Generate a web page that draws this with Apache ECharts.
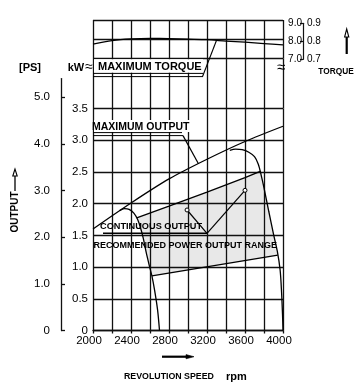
<!DOCTYPE html>
<html><head><meta charset="utf-8">
<script src="https://cdn.jsdelivr.net/npm/echarts@6/dist/echarts.min.js"></script>
<style>html,body{margin:0;padding:0;background:#fff}#c{width:363px;height:390px}</style>
</head><body><div id="c"></div>
<script>
// ---------- data ----------
const rpmLabels = [2000, 2400, 2800, 3200, 3600, 4000];
const kwTicks = [0, 0.5, 1.0, 1.5, 2.0, 2.5, 3.0, 3.5];
const psTicks = [0, 1, 2, 3, 4, 5];
const torqueKgfTicks = [0.7, 0.8, 0.9];
const torqueNmTicks = [7.0, 8.0, 9.0];

const torqueRpm = [2000, 2200, 2400, 2600, 2800, 3000, 3200, 3400, 3600, 3800, 4000];
const torqueMax = [0.774, 0.792, 0.801, 0.804, 0.803, 0.800, 0.797, 0.790, 0.784, 0.777, 0.770];

const maxOutRpm = [2000, 2400, 2800, 3200, 3600, 4000];
const maxOutKw = [1.60, 2.01, 2.39, 2.70, 2.98, 3.22];

const contOutRpm = [2460, 2800, 3200, 3600, 3760];
const contOutKw = [1.775, 1.96, 2.18, 2.41, 2.51];

const leftLimitRpm = [2280, 2330, 2380, 2430, 2470, 2500, 2530, 2560, 2590, 2620, 2650, 2680, 2700];
const leftLimitKw = [1.89, 1.92, 1.91, 1.85, 1.75, 1.62, 1.45, 1.23, 1.04, 0.86, 0.62, 0.32, 0];

const rightLimitRpm = [3440, 3500, 3570, 3640, 3700, 3740, 3770, 3800, 3850, 3900, 3940, 3970, 3985, 3995, 4000];
const rightLimitKw = [2.84, 2.86, 2.85, 2.81, 2.74, 2.62, 2.45, 2.25, 1.88, 1.52, 1.25, 0.95, 0.60, 0.25, 0];

const lowerRpm = [2620, 3945];
const lowerKw = [0.86, 1.19];

const rangeRpm = [2460, 2800, 3200, 3600, 3760, 3800, 3850, 3900, 3940, 3945, 2620, 2590, 2560, 2530, 2500, 2470];
const rangeKw = [1.775, 1.96, 2.18, 2.41, 2.51, 2.25, 1.88, 1.52, 1.25, 1.19, 0.86, 1.04, 1.23, 1.45, 1.62, 1.75];

const pointerRpm = [2990, 3600];
const pointerKw = [1.90, 2.21];
const torqueLeaderRpm = 3300;
const maxOutLeaderRpm = 3110;
const PS_PER_KW = 1 / 0.7355;

// ---------- layout ----------
const L = 93, R = 80;
const mainTop = 108.5, mainBottom = 59.5;
const H = 390;
const mainH = H - mainTop - mainBottom;
const pxPerKw = mainH / 3.5;
const psMax = 5.4;
const psTop = H - mainBottom - psMax / PS_PER_KW * pxPerKw;
const LC = '#111';
const FONT = '"Liberation Sans", Arial, sans-serif';

function interp(xs, ys, x) {
  for (let i = 0; i < xs.length - 1; i++) {
    if (x >= xs[i] && x <= xs[i + 1]) {
      const t = (x - xs[i]) / (xs[i + 1] - xs[i]);
      return ys[i] + t * (ys[i + 1] - ys[i]);
    }
  }
  return ys[ys.length - 1];
}
const pairs = (xs, ys) => xs.map((x, i) => [x, ys[i]]);

function xAxisCfg(gi, mode) {
  const labels = mode === 'main';
  return {
    type: 'value', gridIndex: gi, min: 2000, max: 4000, interval: 200,
    show: mode !== 'hidden',
    axisLine: { show: labels, lineStyle: { color: LC, width: 1.3 } },
    axisTick: { show: labels, length: 3, lineStyle: { color: LC, width: 1.3 } },
    axisLabel: {
      show: labels, margin: 4, fontSize: 11.5, fontFamily: FONT, color: '#000',
      padding: [0, 8, 0, 0],
      formatter: v => rpmLabels.indexOf(v) >= 0 ? String(v) : ''
    },
    splitLine: { show: mode !== 'hidden', lineStyle: { color: LC, width: 1.3 } }
  };
}
const lineSeries = (xs, ys, xi, yi, smooth) => ({
  type: 'line', xAxisIndex: xi, yAxisIndex: yi, data: pairs(xs, ys),
  showSymbol: false, symbol: 'none', smooth: smooth,
  lineStyle: { color: '#000', width: 1.3 }, silent: true, z: 3, clip: false
});

const option = {
  animation: false,
  backgroundColor: '#fff',
  grid: [
    { left: L, right: R, top: mainTop, bottom: mainBottom },
    { left: L, right: R, top: 58.3, height: mainTop - 58.3 },
    { left: L, right: R, top: 20, height: 38.3 },
    { left: L, right: R, top: psTop, bottom: mainBottom },
    { left: L, right: R, top: 23.3, height: 36 }
  ],
  xAxis: [xAxisCfg(0, 'main'), xAxisCfg(1, 'grid'), xAxisCfg(2, 'grid'), xAxisCfg(3, 'hidden'), xAxisCfg(4, 'hidden')],
  yAxis: [
    { type: 'value', gridIndex: 0, min: 0, max: 3.5, interval: 0.5,
      axisLine: { show: false }, axisTick: { show: false },
      axisLabel: { margin: 5, fontSize: 11.5, fontFamily: FONT, color: '#000',
        customValues: kwTicks, formatter: v => v === 0 ? '0' : v.toFixed(1) },
      splitLine: { show: true, lineStyle: { color: LC, width: 1.3 } } },
    { type: 'value', gridIndex: 1, min: 0, max: 1, show: false },
    { type: 'value', gridIndex: 2, min: 0.7, max: 0.9, interval: 0.1,
      axisLine: { show: false }, axisTick: { show: false }, axisLabel: { show: false },
      splitLine: { show: true, lineStyle: { color: LC, width: 1.3 } } },
    { type: 'value', gridIndex: 3, min: 0, max: psMax, interval: 1, position: 'left', offset: 32,
      axisLine: { show: true, lineStyle: { color: LC, width: 1.3 } },
      axisTick: { show: true, inside: true, length: 4, customValues: psTicks, lineStyle: { color: LC, width: 1.3 } },
      axisLabel: { margin: 11, fontSize: 11.5, fontFamily: FONT, color: '#000', padding: [0, 0, 14, 0],
        customValues: psTicks, formatter: v => v === 0 ? '0' : v.toFixed(1) },
      splitLine: { show: false } },
    { type: 'value', gridIndex: 4, min: 0.7, max: 0.9, interval: 0.1, position: 'right', offset: 20,
      axisLine: { show: true, lineStyle: { color: LC, width: 1.2 } },
      axisTick: { show: true, inside: true, length: 3, customValues: torqueKgfTicks, lineStyle: { color: LC, width: 1.2 } },
      axisLabel: { margin: 4, fontSize: 10, fontFamily: FONT, color: '#000', padding: [0, 0, 5, 0],
        customValues: torqueKgfTicks, formatter: v => v.toFixed(1) },
      splitLine: { show: false } },
    { type: 'value', gridIndex: 4, min: 7, max: 9, interval: 1, position: 'right', offset: 20,
      axisLine: { show: false }, axisTick: { show: false },
      axisLabel: { inside: true, margin: 1, fontSize: 10, fontFamily: FONT, color: '#000', padding: [0, 0, 12, 0],
        customValues: torqueNmTicks, formatter: v => v.toFixed(1) },
      splitLine: { show: false } }
  ],
  series: [
    { type: 'custom', xAxisIndex: 0, yAxisIndex: 0, z: -1, silent: true,
      data: pairs(rangeRpm, rangeKw),
      renderItem: (params, api) => {
        if (params.dataIndex !== 0) return null;
        const pts = rangeRpm.map((r, i) => api.coord([r, rangeKw[i]]));
        return { type: 'polygon', shape: { points: pts }, style: { fill: '#e8e8e8', stroke: null } };
      } },
    lineSeries(torqueRpm, torqueMax, 2, 2, 0.3),
    lineSeries(maxOutRpm, maxOutKw, 0, 0, 0.3),
    lineSeries(contOutRpm, contOutKw, 0, 0, false),
    lineSeries(leftLimitRpm, leftLimitKw, 0, 0, 0.3),
    lineSeries(rightLimitRpm, rightLimitKw, 0, 0, 0.3),
    lineSeries(lowerRpm, lowerKw, 0, 0, false)
  ]
};

const chart = echarts.init(document.getElementById('c'), null, { renderer: 'canvas' });
chart.setOption(option);

const px = (gi, x, y) => chart.convertToPixel({ gridIndex: gi }, [x, y]);
const T = (x, y, text, size, extra) => ({
  type: 'text', x: x, y: y, z: 20, silent: true,
  style: Object.assign({ text: text, font: 'bold ' + size + 'px ' + FONT, fill: '#000',
    align: 'left', verticalAlign: 'middle', textAlign: 'left', textVerticalAlign: 'middle' }, extra || {})
});
const Ln = (x1, y1, x2, y2, w) => ({ type: 'line', z: 15, silent: true,
  shape: { x1: x1, y1: y1, x2: x2, y2: y2 }, style: { stroke: '#000', lineWidth: w || 1.2 } });
const Rect = (x, y, w, h) => ({ type: 'rect', z: 12, silent: true, shape: { x: x, y: y, width: w, height: h }, style: { fill: '#fff' } });

const tqEnd = px(2, torqueLeaderRpm, interp(torqueRpm, torqueMax, torqueLeaderRpm));
const moEnd = px(0, maxOutLeaderRpm, interp(maxOutRpm, maxOutKw, maxOutLeaderRpm));
const pA = px(0, pointerRpm[0], pointerKw[0]);
const pB = px(0, pointerRpm[1], pointerKw[1]);
const cStart = [207, 233.3];

const els = [
  Rect(94, 59.2, 109, 13.6),
  T(98, 66.5, 'MAXIMUM TORQUE', 11),
  Ln(93, 73.4, 203, 73.4, 1), Ln(93, 76.6, 203, 76.6, 1),
  Ln(202.5, 76.6, tqEnd[0], tqEnd[1], 1.2),
  Rect(94, 120, 98, 12),
  T(92, 126.8, 'MAXIMUM OUTPUT', 10.5),
  Ln(93, 132.6, 182, 132.6, 1), Ln(93, 135.6, 183, 135.6, 1),
  Ln(183, 135.6, moEnd[0], moEnd[1], 1.2),
  T(100, 226.5, 'CONTINUOUS OUTPUT', 9.2),
  Ln(103, cStart[1], cStart[0], cStart[1], 1.5),
  Ln(cStart[0], cStart[1], pA[0], pA[1], 1.2),
  Ln(cStart[0], cStart[1], pB[0], pB[1], 1.2),
  { type: 'circle', z: 16, silent: true, shape: { cx: pA[0], cy: pA[1], r: 2 }, style: { fill: '#fff', stroke: '#000', lineWidth: 1 } },
  { type: 'circle', z: 16, silent: true, shape: { cx: pB[0], cy: pB[1], r: 2 }, style: { fill: '#fff', stroke: '#000', lineWidth: 1 } },
  T(93.5, 246, 'RECOMMENDED POWER OUTPUT RANGE', 9),
  T(30, 68, '[PS]', 11, { align: 'center', textAlign: 'center' }),
  T(76, 68, 'kW', 11, { align: 'center', textAlign: 'center' }),
  T(89, 67, '\u2248', 14, { align: 'center', textAlign: 'center', font: '14px ' + FONT }),
  T(281, 68, '\u2248', 15, { align: 'center', textAlign: 'center', font: '15px ' + FONT }),
  Object.assign(T(15, 212, 'OUTPUT', 10, { align: 'center', textAlign: 'center' }), { rotation: Math.PI / 2 }),
  Ln(15, 191, 15, 174, 1.3),
  { type: 'polygon', z: 15, silent: true, shape: { points: [[15, 169], [12.8, 176], [17.2, 176]] }, style: { fill: '#fff', stroke: '#000', lineWidth: 1.1 } },
  T(124, 377, 'REVOLUTION SPEED', 8.8),
  T(226, 377, 'rpm', 11),
  Ln(162, 356.7, 187, 356.7, 2.2),
  { type: 'polygon', z: 15, silent: true, shape: { points: [[186, 354.6], [194, 356.7], [186, 358.8]] }, style: { fill: '#000', stroke: '#000', lineWidth: 0.6 } },
  T(336, 71.7, 'TORQUE', 8.3, { align: 'center', textAlign: 'center' }),
  Ln(346.7, 54, 346.7, 36, 2.2),
  { type: 'polygon', z: 15, silent: true, shape: { points: [[346.7, 29], [344.6, 37], [348.8, 37]] }, style: { fill: '#fff', stroke: '#000', lineWidth: 1.1 } }
];
chart.setOption({ graphic: { elements: els } });
</script>
</body></html>
